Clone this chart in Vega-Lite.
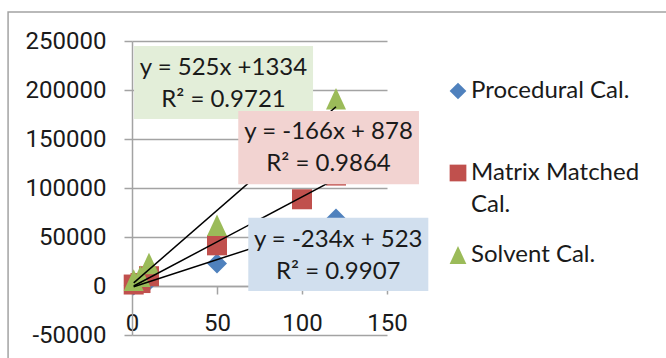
{
  "$schema": "https://vega.github.io/schema/vega-lite/v6.json",
  "width": 255,
  "height": 294,
  "autosize": "none",
  "padding": {"left": 132, "top": 41, "right": 279, "bottom": 23},
  "background": "white",
  "config": {
    "font": "Lato",
    "view": {"stroke": null},
    "style": {"guide-label": {"lineHeight": 32}},
    "axis": {
      "title": null,
      "labelFont": "Roboto",
      "labelFontSize": 24,
      "labelColor": "#1a1a1a",
      "domainColor": "#a3a3a3",
      "domainWidth": 1.5,
      "tickColor": "#a3a3a3",
      "tickWidth": 1.5,
      "tickSize": 8,
      "gridColor": "#a3a3a3",
      "gridWidth": 1.5,
      "labelFlush": false,
      "labelOverlap": false,
      "labelExpr": "'' + datum.value"
    }
  },
  "datasets": {
    "calibration": [
      {"series": "Procedural Cal.", "conc": 1, "area": 500},
      {"series": "Procedural Cal.", "conc": 5, "area": 2000},
      {"series": "Procedural Cal.", "conc": 10, "area": 5000},
      {"series": "Procedural Cal.", "conc": 50, "area": 23000},
      {"series": "Procedural Cal.", "conc": 100, "area": 54000},
      {"series": "Procedural Cal.", "conc": 120, "area": 69000},
      {"series": "Matrix Matched Cal.", "conc": 1, "area": 1500},
      {"series": "Matrix Matched Cal.", "conc": 5, "area": 3000},
      {"series": "Matrix Matched Cal.", "conc": 10, "area": 10000},
      {"series": "Matrix Matched Cal.", "conc": 50, "area": 41500},
      {"series": "Matrix Matched Cal.", "conc": 100, "area": 88500},
      {"series": "Matrix Matched Cal.", "conc": 120, "area": 112700},
      {"series": "Solvent Cal.", "conc": 1, "area": 6000},
      {"series": "Solvent Cal.", "conc": 5, "area": 10000},
      {"series": "Solvent Cal.", "conc": 10, "area": 23000},
      {"series": "Solvent Cal.", "conc": 50, "area": 62000},
      {"series": "Solvent Cal.", "conc": 100, "area": 150000},
      {"series": "Solvent Cal.", "conc": 120, "area": 191000}
    ]
  },
  "layer": [
    {
      "description": "chart-area frame",
      "data": {"values": [{}]},
      "mark": {"type": "rect", "fill": null, "stroke": "#a3a3a3", "strokeWidth": 1.5},
      "encoding": {
        "x": {"datum": -72.9, "type": "quantitative", "scale": {"domain": [0, 150], "nice": false, "zero": false}},
        "x2": {"datum": 330},
        "y": {"datum": 279600, "type": "quantitative", "scale": {"domain": [-50000, 250000], "nice": false, "zero": false}},
        "y2": {"datum": -90000}
      }
    },
    {
      "data": {"name": "calibration"},
      "mark": {"type": "point", "filled": true, "opacity": 1, "size": 400, "strokeWidth": 0},
      "encoding": {
        "x": {
          "field": "conc", "type": "quantitative",
          "scale": {"domain": [0, 150], "nice": false, "zero": false},
          "axis": {"values": [0, 50, 100, 150], "offset": -49, "grid": false, "labelPadding": 17}
        },
        "y": {
          "field": "area", "type": "quantitative",
          "scale": {"domain": [-50000, 250000], "nice": false, "zero": false},
          "axis": {"values": [-50000, 0, 50000, 100000, 150000, 200000, 250000], "grid": true, "labelPadding": 18}
        },
        "color": {
          "field": "series", "type": "nominal",
          "scale": {"domain": ["Procedural Cal.", "Matrix Matched Cal.", "Solvent Cal."], "range": ["#4f81bd", "#c0504d", "#9bbb59"]},
          "legend": {
            "orient": "none", "legendX": 314, "legendY": 38, "title": null, "padding": 0,
            "labelFont": "Lato", "labelFontSize": 24, "labelColor": "#1a1a1a", "labelLimit": 300,
            "labelOffset": 1, "rowPadding": 26, "symbolSize": 280, "symbolStrokeWidth": 0,
            "labelExpr": "datum.label == 'Matrix Matched Cal.' ? ['Matrix Matched', 'Cal.'] : [datum.label, '']"
          }
        },
        "shape": {
          "field": "series", "type": "nominal",
          "scale": {"domain": ["Procedural Cal.", "Matrix Matched Cal.", "Solvent Cal."], "range": ["diamond", "square", "M-1,1.08L0,-1.08L1,1.08Z"]},
          "legend": {
            "orient": "none", "legendX": 314, "legendY": 38, "title": null, "padding": 0,
            "labelFont": "Lato", "labelFontSize": 24, "labelColor": "#1a1a1a", "labelLimit": 300,
            "labelOffset": 1, "rowPadding": 26, "symbolSize": 280, "symbolStrokeWidth": 0,
            "labelExpr": "datum.label == 'Matrix Matched Cal.' ? ['Matrix Matched', 'Cal.'] : [datum.label, '']"
          }
        }
      }
    },
    {
      "description": "linear trendlines",
      "data": {"name": "calibration"},
      "transform": [{"regression": "area", "on": "conc", "groupby": ["series"], "extent": [1, 120]}],
      "mark": {"type": "line", "color": "#000000", "strokeWidth": 1.5},
      "encoding": {
        "x": {"field": "conc", "type": "quantitative", "scale": {"domain": [0, 150], "nice": false, "zero": false}},
        "y": {"field": "area", "type": "quantitative", "scale": {"domain": [-50000, 250000], "nice": false, "zero": false}},
        "detail": {"field": "series"}
      }
    },
    {
      "data": {"values": [{"label": "y = 525x +1334\nR² = 0.9721"}]},
      "layer": [
        {
          "mark": {"type": "rect", "fill": "#e3eed9"},
          "encoding": {
            "x": {"datum": 1.2, "type": "quantitative", "scale": {"domain": [0, 150], "nice": false, "zero": false}},
            "x2": {"datum": 106.5},
            "y": {"datum": 244900, "type": "quantitative", "scale": {"domain": [-50000, 250000], "nice": false, "zero": false}},
            "y2": {"datum": 170400}
          }
        },
        {
          "mark": {"type": "text", "fontSize": 24, "color": "#1a1a1a", "lineBreak": "\n", "lineHeight": 32, "baseline": "alphabetic", "align": "center"},
          "encoding": {
            "x": {"datum": 53.8, "type": "quantitative", "scale": {"domain": [0, 150], "nice": false, "zero": false}},
            "y": {"datum": 215300, "type": "quantitative", "scale": {"domain": [-50000, 250000], "nice": false, "zero": false}},
            "text": {"field": "label"}
          }
        }
      ]
    },
    {
      "data": {"values": [{"label": "y = -166x + 878\nR² = 0.9864"}]},
      "layer": [
        {
          "mark": {"type": "rect", "fill": "#f2d3d1"},
          "encoding": {
            "x": {"datum": 62.5, "type": "quantitative", "scale": {"domain": [0, 150], "nice": false, "zero": false}},
            "x2": {"datum": 168.8},
            "y": {"datum": 178570, "type": "quantitative", "scale": {"domain": [-50000, 250000], "nice": false, "zero": false}},
            "y2": {"datum": 103780}
          }
        },
        {
          "mark": {"type": "text", "fontSize": 24, "color": "#1a1a1a", "lineBreak": "\n", "lineHeight": 32, "baseline": "alphabetic", "align": "center"},
          "encoding": {
            "x": {"datum": 115.6, "type": "quantitative", "scale": {"domain": [0, 150], "nice": false, "zero": false}},
            "y": {"datum": 149500, "type": "quantitative", "scale": {"domain": [-50000, 250000], "nice": false, "zero": false}},
            "text": {"field": "label"}
          }
        }
      ]
    },
    {
      "data": {"values": [{"label": "y = -234x + 523\nR² = 0.9907"}]},
      "layer": [
        {
          "mark": {"type": "rect", "fill": "#d1dfee"},
          "encoding": {
            "x": {"datum": 68.4, "type": "quantitative", "scale": {"domain": [0, 150], "nice": false, "zero": false}},
            "x2": {"datum": 174.3},
            "y": {"datum": 69700, "type": "quantitative", "scale": {"domain": [-50000, 250000], "nice": false, "zero": false}},
            "y2": {"datum": -5100}
          }
        },
        {
          "mark": {"type": "text", "fontSize": 24, "color": "#1a1a1a", "lineBreak": "\n", "lineHeight": 32, "baseline": "alphabetic", "align": "center"},
          "encoding": {
            "x": {"datum": 121.3, "type": "quantitative", "scale": {"domain": [0, 150], "nice": false, "zero": false}},
            "y": {"datum": 39300, "type": "quantitative", "scale": {"domain": [-50000, 250000], "nice": false, "zero": false}},
            "text": {"field": "label"}
          }
        }
      ]
    }
  ]
}
